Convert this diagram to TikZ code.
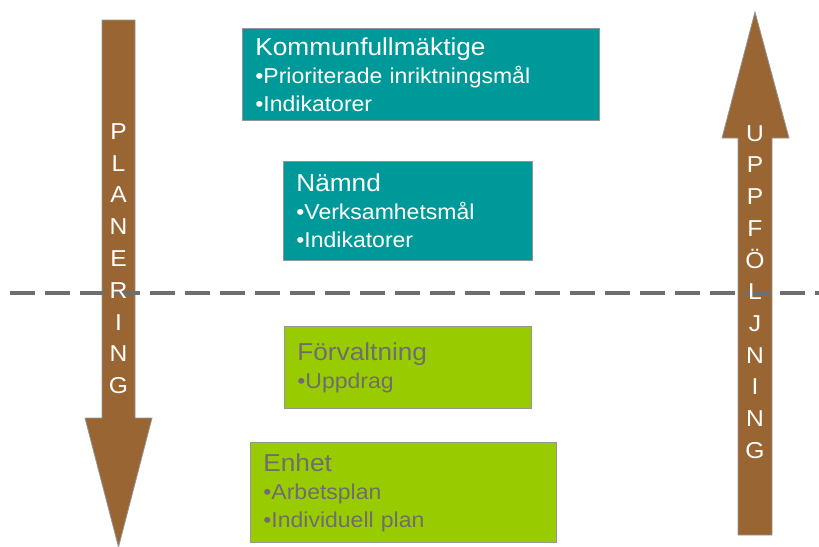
\documentclass[tikz,border=0pt]{standalone}
\usepackage{fontspec}
\setmainfont[FakeStretch=1.07]{Liberation Sans}
\definecolor{nteal}{HTML}{009999}
\definecolor{ngreen}{HTML}{99CC00}
\definecolor{nbrown}{HTML}{996633}
\definecolor{ngray}{HTML}{6E6E6E}
\definecolor{nedge}{HTML}{959595}
\newcommand{\boxhead}{\fontsize{24.5}{29}\selectfont}
\tikzset{
  bigarrow/.style={fill=nbrown, draw=nedge, line width=0.8pt},
  dashline/.style={draw=ngray, line width=3.5pt, dash pattern=on 25pt off 10pt},
  letter/.style={text=white, font=\fontsize{23}{23}\selectfont, inner sep=0pt,
    text height=16.5pt, text depth=0pt},
  levelbox/.style={draw=nedge, line width=0.8pt, anchor=north west, align=left,
    inner xsep=13pt, inner ysep=0pt, font=\fontsize{21.5}{28}\selectfont},
  polbox/.style={levelbox, fill=nteal, text=white},
  admbox/.style={levelbox, fill=ngreen, text=ngray}
}
\begin{document}
\begin{tikzpicture}[x=1pt,y=-1pt]
    \useasboundingbox (0,0) rectangle (819,546);

    % planering och uppfoljning
    \draw[bigarrow] (102,20) -- (135,20) -- (135,418) -- (152,418) -- (118.5,547)
        -- (85,418) -- (102,418) -- cycle;
    \draw[bigarrow] (738,535) -- (772,535) -- (772,138) -- (789,138) -- (755,12)
        -- (722,138) -- (738,138) -- cycle;

    % gransen mellan politik och forvaltning
    \coordinate (cutL) at (10,293);
    \coordinate (cutR) at (819,293);
    \draw[dashline] (cutL) -- (cutR);

    \foreach \c [count=\i] in {P,L,A,N,E,R,I,N,G}
        \node[letter] (pl\i) at (118.5,{131+31.8*(\i-1)}) {\c};
    \foreach \c [count=\i] in {U,P,P,F,Ö,L,J,N,I,N,G}
        \node[letter] (up\i) at (755,{133+31.7*(\i-1)}) {\c};

    \node[polbox, text width=331pt, minimum height=92pt] (kf) at (242,28)
        {{\boxhead Kommunfullmäktige}\\•Prioriterade inriktningsmål\\•Indikatorer};
    \node[polbox, text width=223pt, minimum height=99pt] (nmd) at (283,161)
        {{\boxhead Nämnd}\\•Verksamhetsmål\\•Indikatorer};
    \node[admbox, text width=221pt, minimum height=82pt] (forv) at (284,326)
        {{\boxhead Förvaltning}\\•Uppdrag};
    \node[admbox, text width=280pt, minimum height=100pt] (enh) at (250,442)
        {{\boxhead Enhet}\\•Arbetsplan\\•Individuell plan};

\end{tikzpicture}
\end{document}
